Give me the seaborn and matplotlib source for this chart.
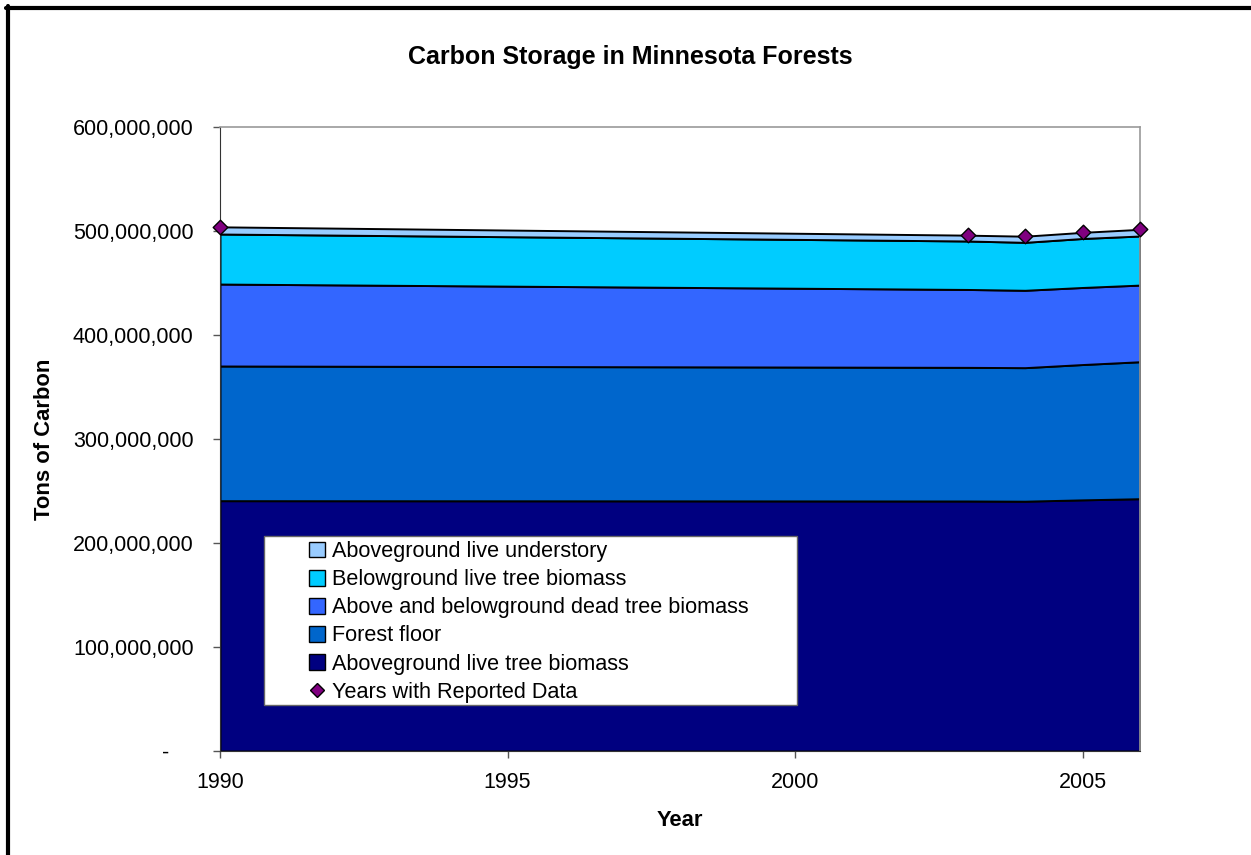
#Carbon storage in Minnesota forests - stacked area chart
import numpy as np
import matplotlib
matplotlib.use("Agg")
import matplotlib.pyplot as plt
from matplotlib.patches import Patch, Rectangle
from matplotlib.lines import Line2D
import seaborn as sns
import pandas as pd

#data (tons of carbon)
years = [1990, 2003, 2004, 2005, 2006]
live_tree = [240.7e6, 240.4e6, 240.2e6, 241.5e6, 242.6e6]
forest_floor = [129.5e6, 128.5e6, 128.4e6, 130.1e6, 131.7e6]
dead_tree = [78.8e6, 74.9e6, 74.4e6, 74.1e6, 73.7e6]
below_live = [48.1e6, 46.6e6, 46.1e6, 47.1e6, 47.2e6]
understory = [6.9e6, 5.6e6, 5.9e6, 5.9e6, 6.4e6]

labels = ["Aboveground live tree biomass", "Forest floor",
          "Above and belowground dead tree biomass",
          "Belowground live tree biomass", "Aboveground live understory"]
colors = ["#000080", "#0066CC", "#3366FF", "#00CCFF", "#99CCFF"]

sns.set_style("white")
plt.rcParams['font.family'] = ['Liberation Sans', 'DejaVu Sans']
plt.rcParams['text.color'] = 'black'

W, H = 1251, 855
fig = plt.figure(figsize=(W / 100, H / 100), dpi=100)
ax = fig.add_axes([220 / W, 1 - 751 / H, 920 / W, 624 / H])

layers = [live_tree, forest_floor, dead_tree, below_live, understory]
ax.stackplot(years, *layers, colors=colors, edgecolor="black", linewidth=1.4)

#total carbon at the reported years
df = pd.DataFrame({"year": years, "total": np.sum(layers, axis=0)})
sns.scatterplot(data=df, x="year", y="total", marker="D", s=55,
                color="#800080", edgecolor="black", linewidth=1.0,
                ax=ax, zorder=5, clip_on=False)

ax.set_xlim(1990, 2006)
ax.set_ylim(0, 600e6)
ax.set_xticks([1990, 1995, 2000, 2005])
ax.set_yticks(np.arange(0, 600e6 + 1, 100e6))
ax.set_yticklabels(["-    "] + [f"{v:,.0f}" for v in np.arange(100e6, 600e6 + 1, 100e6)])
ax.tick_params(axis="both", direction="out", length=5, width=1, color="#555555",
               labelsize=15.5, labelcolor="black", left=True, bottom=True)
ax.tick_params(axis="y", pad=14)
ax.tick_params(axis="x", pad=10)
ax.set_xlabel("")
ax.set_ylabel("")
for side in ["top", "right"]:
    ax.spines[side].set_color("#999999")
    ax.spines[side].set_linewidth(1.2)
ax.spines["left"].set_color("#333333")
ax.spines["bottom"].set_color("#333333")

fig.text(630 / W, 1 - 57 / H, "Carbon Storage in Minnesota Forests",
         ha="center", va="center", fontsize=18, fontweight="bold", color="black")
fig.text(680 / W, 1 - 820 / H, "Year", ha="center", va="center",
         fontsize=15.8, fontweight="bold", color="black")
fig.text(45 / W, 1 - 439 / H, "Tons of Carbon", ha="center", va="center",
         rotation=90, fontsize=15.8, fontweight="bold", color="black")

#legend with its own white box
handles = [Patch(facecolor=c, edgecolor="black", label=l)
           for c, l in zip(colors[::-1], labels[::-1])]
handles.append(Line2D([], [], marker="D", linestyle="none", color="#800080",
                      markeredgecolor="black", markersize=7,
                      label="Years with Reported Data"))
box = Rectangle((264 / W, 1 - 705 / H), 533 / W, 169 / H, transform=fig.transFigure,
                facecolor="white", edgecolor="#666666", linewidth=1.0, zorder=1)
fig.patches.append(box)
fig.legend(handles=handles, loc="upper left",
           bbox_to_anchor=(309 / W, 1 - 541 / H), frameon=False,
           fontsize=15.6, borderpad=0, borderaxespad=0, labelspacing=0.33,
           handlelength=0.75, handleheight=0.75, handletextpad=0.3,
           labelcolor="black")

#outer chart border (left and top only visible)
fig.add_artist(Line2D([8 / W, 8 / W], [0, 1 - 6 / H], color="black", linewidth=3,
                      transform=fig.transFigure))
fig.add_artist(Line2D([6 / W, 1], [1 - 8 / H, 1 - 8 / H], color="black", linewidth=3,
                      transform=fig.transFigure))

fig.savefig("out.png", dpi=100)
